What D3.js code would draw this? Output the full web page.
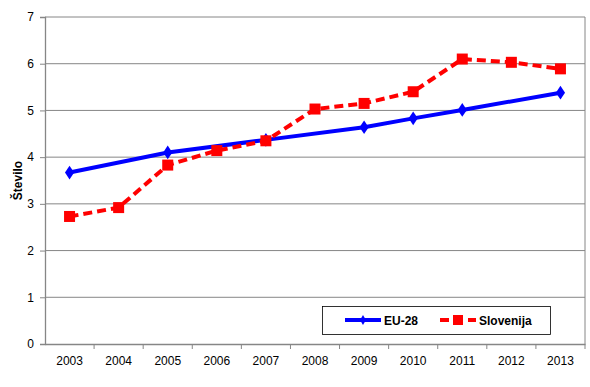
<!DOCTYPE html>
<html><head><meta charset="utf-8">
<script src="https://cdn.jsdelivr.net/npm/d3@7/dist/d3.min.js"></script>
<style>body{margin:0;background:#fff}svg{display:block}text{font-family:"Liberation Sans",Arial,sans-serif}</style>
</head><body><svg id="c" width="590" height="387"></svg>
<script>
const years = ["2003","2004","2005","2006","2007","2008","2009","2010","2011","2012","2013"];
const eu28 = [3.67, null, 4.10, null, 4.37, null, 4.64, 4.83, 5.01, null, 5.38];
const slovenija = [2.73, 2.92, 3.83, 4.14, 4.35, 5.03, 5.15, 5.40, 6.10, 6.03, 5.89];
const yTicks = [0,1,2,3,4,5,6,7];

const svg = d3.select("#c");
const L=45, R=585, T=17, B=344;
const x = d3.scaleBand().domain(years).range([L,R]);
const y = d3.scaleLinear().domain([0,7]).range([B,T]);
const cx = d => x(d) + x.bandwidth()/2;

// gridlines
svg.append("g").selectAll("line").data(yTicks.filter(t=>t>0)).join("line")
  .attr("x1",L).attr("x2",R).attr("y1",d=>y(d)).attr("y2",d=>y(d))
  .attr("stroke","#868686").attr("stroke-width",1);
// right border
svg.append("line").attr("x1",R).attr("x2",R).attr("y1",T).attr("y2",B).attr("stroke","#868686");

const ya = svg.append("g").attr("transform",`translate(${L},0)`)
  .call(d3.axisLeft(y).tickValues(yTicks).tickFormat(d3.format("d")).tickSize(5).tickPadding(6));
const xa = svg.append("g").attr("transform",`translate(0,${B})`)
  .call(d3.axisBottom(x).tickSize(0).tickPadding(12));
[ya,xa].forEach(a=>{a.select(".domain").attr("stroke","#868686").attr("stroke-width",1.3);
  a.selectAll("text").attr("font-size",12).attr("fill","#000").attr("font-family","Liberation Sans, Arial, sans-serif");
  a.selectAll(".tick line").attr("stroke","#868686");});
// x ticks at band boundaries
svg.append("g").selectAll("line").data(years.slice(1)).join("line")
  .attr("x1",d=>x(d)).attr("x2",d=>x(d)).attr("y1",B).attr("y2",B+5).attr("stroke","#868686");
svg.append("line").attr("x1",R).attr("x2",R).attr("y1",B).attr("y2",B+5).attr("stroke","#868686");

svg.append("text").attr("transform",`translate(22,${(T+B)/2}) rotate(-90)`)
  .attr("text-anchor","middle").attr("font-size",12).attr("font-weight","bold").text("Število");

const euData = years.map((d,i)=>({d,v:eu28[i]})).filter(p=>p.v!==null);
const slData = years.map((d,i)=>({d,v:slovenija[i]}));
const line = d3.line().x(p=>cx(p.d)).y(p=>y(p.v));

svg.append("path").datum(euData).attr("d",line).attr("fill","none")
  .attr("stroke","#0000FF").attr("stroke-width",4).attr("stroke-linejoin","round");
const diamond = d3.symbol().type(d3.symbolDiamond).size(60);
svg.append("g").selectAll("path").data(euData).join("path")
  .attr("transform",p=>`translate(${cx(p.d)},${y(p.v)}) scale(1.1,0.95)`).attr("d",diamond).attr("fill","#0000FF");

svg.append("path").datum(slData).attr("d",line).attr("fill","none")
  .attr("stroke","#FF0000").attr("stroke-width",4).attr("stroke-dasharray","9,5");
svg.append("g").selectAll("rect").data(slData).join("rect")
  .attr("x",p=>cx(p.d)-5.5).attr("y",p=>y(p.v)-5.5).attr("width",11).attr("height",11).attr("fill","#FF0000");

// legend
const lg = svg.append("g");
lg.append("rect").attr("x",322.5).attr("y",306.5).attr("width",228).attr("height",28)
  .attr("fill","#fff").attr("stroke","#000").attr("stroke-width",0.8);
lg.append("line").attr("x1",345).attr("x2",381).attr("y1",320).attr("y2",320).attr("stroke","#0000FF").attr("stroke-width",4);
lg.append("path").attr("transform","translate(363,320)").attr("d",d3.symbol().type(d3.symbolDiamond).size(30)).attr("fill","#0000FF");
lg.append("text").attr("x",384).attr("y",324.5).attr("font-size",12).attr("font-weight","bold").text("EU-28");
lg.append("line").attr("x1",440).attr("x2",476).attr("y1",320).attr("y2",320).attr("stroke","#FF0000").attr("stroke-width",4).attr("stroke-dasharray","9,5");
lg.append("rect").attr("x",453).attr("y",315).attr("width",10).attr("height",10).attr("fill","#FF0000");
lg.append("text").attr("x",479).attr("y",324.5).attr("font-size",12).attr("font-weight","bold").text("Slovenija");
</script></body></html>
